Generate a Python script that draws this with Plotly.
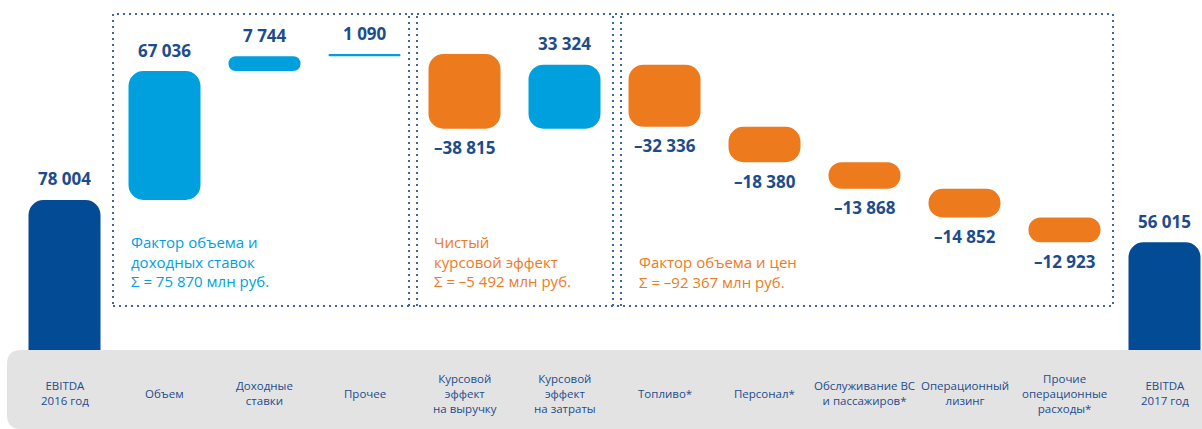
import plotly.graph_objects as go

# ---------------- data ----------------
cat_ids = ["e16", "vol", "rates", "other", "fx_rev", "fx_cost", "fuel",
           "staff", "service", "lease", "opex", "e17"]
cat_labels = ["EBITDA<br>2016 год", "Объем", "Доходные<br>ставки", "Прочее",
              "Курсовой<br>эффект<br>на выручку", "Курсовой<br>эффект<br>на затраты",
              "Топливо*", "Персонал*", "Обслуживание ВС<br>и пассажиров*",
              "Операционный<br>лизинг", "Прочие<br>операционные<br>расходы*",
              "EBITDA<br>2017 год"]
values = [78004, 67036, 7744, 1090, -38815, 33324, -32336, -18380, -13868,
          -14852, -12923, 56015]
is_total = [True, False, False, False, False, False, False, False, False,
            False, False, True]

group_texts = ["Фактор объема и<br>доходных ставок<br>Σ = 75 870 млн руб.",
               "Чистый<br>курсовой эффект<br>Σ = –5 492 млн руб.",
               "Фактор объема и цен<br>Σ = –92 367 млн руб."]

# ---------------- style ----------------
DARK = "#034b94"
LIGHT = "#00a0df"
ORANGE = "#ee7a1e"
LABEL = "#1d4c8d"
BAND = "#e3e3e3"
DOTS = "#3a67a6"
FONT = "Open Sans"
W, H = 1202, 429


def fmt(v):
    s = f"{abs(v):,}".replace(",", " ")
    return ("–" + s) if v < 0 else s


# waterfall geometry from data
bases, tops, bottoms = [], [], []
run = 0
for v, t in zip(values, is_total):
    if t:
        bases.append(None)
        bottoms.append(0)
        tops.append(v)
        run = v
    else:
        start, end = run, run + v
        lo, hi = min(start, end), max(start, end)
        bases.append(lo)
        bottoms.append(lo)
        tops.append(hi)
        run = end

fig = go.Figure()

# totals
tx = [c for c, t in zip(cat_ids, is_total) if t]
ty = [v for v, t in zip(values, is_total) if t]
fig.add_bar(x=tx, y=ty, marker=dict(color=DARK, cornerradius=15, line_width=0),
            hoverinfo="skip")

# increases / decreases (floating)
for sign_pos, col in [(True, LIGHT), (False, ORANGE)]:
    xs, ys, bs = [], [], []
    for c, v, t, b in zip(cat_ids, values, is_total, bases):
        if t or (v > 0) != sign_pos:
            continue
        xs.append(c)
        ys.append(abs(v))
        bs.append(b)
    fig.add_bar(x=xs, y=ys, base=bs,
                marker=dict(color=col, cornerradius=15, line_width=0),
                hoverinfo="skip")

ann = []
# value labels
for c, v, t, top, bot in zip(cat_ids, values, is_total, tops, bottoms):
    if v >= 0:
        ann.append(dict(x=c, y=top, yshift=21, text=fmt(v)))
    else:
        ann.append(dict(x=c, y=bot, yshift=-19, text=fmt(v)))
for a in ann:
    a.update(xref="x", yref="y", showarrow=False, yanchor="middle",
             font=dict(family=FONT, size=17, color=LABEL, weight="bold"))

# category labels in gray band
for c, lab in zip(cat_ids, cat_labels):
    ann.append(dict(x=c, y=1 - 393 / H, xref="x", yref="paper", text=lab,
                    showarrow=False, yanchor="middle", align="center",
                    font=dict(family=FONT, size=11.5, color=LABEL)))

# group texts
gpos = [(129, 230, LIGHT), (432, 230, ORANGE), (637, 250, ORANGE)]
for txt, (px, py, col) in zip(group_texts, gpos):
    ann.append(dict(x=px / W, y=1 - py / H, xref="paper", yref="paper",
                    text=txt, showarrow=False, xanchor="left", yanchor="top",
                    align="left", font=dict(family=FONT, size=15, color=col)))

shapes = []
# gray band with rounded left corners
r = 14
pts = lambda x, y: f"{x / W:.5f},{1 - y / H:.5f}"
band = (f"M{pts(W + 5, 350)} L{pts(7 + r, 350)} Q{pts(7, 350)} {pts(7, 350 + r)} "
        f"L{pts(7, 429 - r)} Q{pts(7, 429)} {pts(7 + r, 429)} L{pts(W + 5, 429)} Z")
shapes.append(dict(type="path", path=band, xref="paper", yref="paper",
                   fillcolor=BAND, line_width=0, layer="below"))

# dotted group boxes
dot = dict(color=DOTS, width=2, dash="2px,4px")
y0p, y1p = 1 - 306 / H, 1 - 14 / H
shapes.append(dict(type="rect", xref="paper", yref="paper", x0=113 / W, x1=1113 / W,
                   y0=y0p, y1=y1p, line=dot, layer="below"))
for px in [409, 417, 613, 621]:
    shapes.append(dict(type="line", xref="paper", yref="paper", x0=px / W, x1=px / W,
                       y0=y0p, y1=y1p, line=dot, layer="below"))

fig.update_layout(
    width=W, height=H,
    margin=dict(l=0, r=0, t=0, b=0),
    paper_bgcolor="white", plot_bgcolor="white",
    showlegend=False,
    barmode="overlay", bargap=0.28,
    xaxis=dict(type="category", categoryorder="array", categoryarray=cat_ids,
               range=[-0.645, 11.375], visible=False, fixedrange=True),
    yaxis=dict(range=[-41080, 182000], visible=False, fixedrange=True),
    annotations=ann,
    shapes=shapes,
    font=dict(family=FONT),
)

fig.write_html("out.html", config={"displayModeBar": False},
               post_script="document.body.style.margin='0';document.body.style.overflow='hidden';")
